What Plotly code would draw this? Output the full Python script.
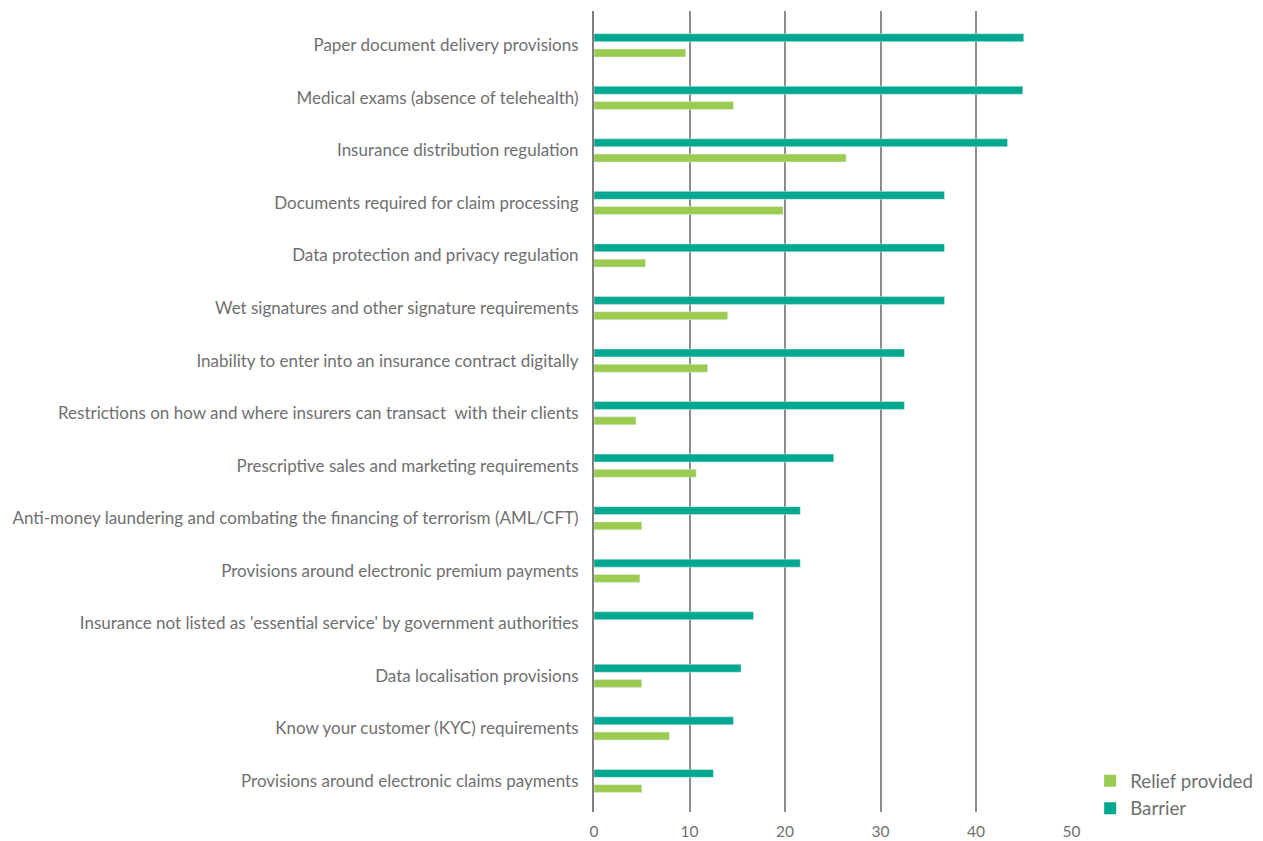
import plotly.graph_objects as go

categories = [
    "Paper document delivery provisions",
    "Medical exams (absence of telehealth)",
    "Insurance distribution regulation",
    "Documents required for claim processing",
    "Data protection and privacy regulation",
    "Wet signatures and other signature requirements",
    "Inability to enter into an insurance contract digitally",
    "Restrictions on how and where insurers can transact  with their clients",
    "Prescriptive sales and marketing requirements",
    "Anti-money laundering and combating the financing of terrorism (AML/CFT)",
    "Provisions around electronic premium payments",
    "Insurance not listed as 'essential service' by government authorities",
    "Data localisation provisions",
    "Know your customer (KYC) requirements",
    "Provisions around electronic claims payments",
]
barrier = [45.0, 44.9, 43.3, 36.7, 36.7, 36.7, 32.5, 32.5, 25.1, 21.6, 21.6, 16.7, 15.4, 14.6, 12.5]
relief = [9.6, 14.6, 26.4, 19.8, 5.4, 14.0, 11.9, 4.4, 10.7, 5.0, 4.8, None, 5.0, 7.9, 5.0]
x_ticks = [0, 10, 20, 30, 40, 50]

TEAL = "#00A88F"
GREEN = "#9BCB4F"
TEXT = "#6F6F71"
FONT = "Lato, 'Open Sans', sans-serif"

fig = go.Figure()
fig.add_trace(go.Bar(y=categories, x=barrier, orientation="h", name="Barrier",
                     marker_color=TEAL, showlegend=False))
fig.add_trace(go.Bar(y=categories, x=relief, orientation="h", name="Relief provided",
                     marker_color=GREEN, showlegend=False))
# legend entries with small square swatches
fig.add_trace(go.Scatter(x=[None], y=[None], mode="markers", name="Barrier",
                         marker=dict(symbol="square", size=9, color=TEAL)))
fig.add_trace(go.Scatter(x=[None], y=[None], mode="markers", name="Relief provided",
                         marker=dict(symbol="square", size=9, color=GREEN)))

fig.update_layout(
    width=1263, height=841,
    margin=dict(l=594, r=191, t=11, b=29, autoexpand=False),
    paper_bgcolor="white", plot_bgcolor="white",
    barmode="group", bargap=0.42, bargroupgap=0.477,
    font=dict(family=FONT, color=TEXT, size=17),
    legend=dict(x=1.038, xanchor="left", y=-0.019, yanchor="bottom",
                traceorder="reversed", font=dict(size=18.7, color=TEXT),
                bgcolor="rgba(0,0,0,0)", itemsizing="constant",
                tracegroupgap=0),
)
fig.update_xaxes(range=[0, 50.05], tickvals=x_ticks, showgrid=True,
                 gridcolor="#8C8C8C", gridwidth=1.5, zeroline=False,
                 showline=False, ticks="outside", ticklen=5,
                 tickcolor="rgba(0,0,0,0)", tickfont=dict(size=15.5, color=TEXT))
fig.update_yaxes(type="category", categoryorder="array", categoryarray=categories,
                 range=[14.59, -0.653], showgrid=False, zeroline=False,
                 showline=True, linecolor="#7F7F7F", linewidth=2,
                 ticks="outside", ticklen=10, tickcolor="rgba(0,0,0,0)",
                 tickfont=dict(size=17, color=TEXT), automargin=False)

fig.write_html("out.html")
